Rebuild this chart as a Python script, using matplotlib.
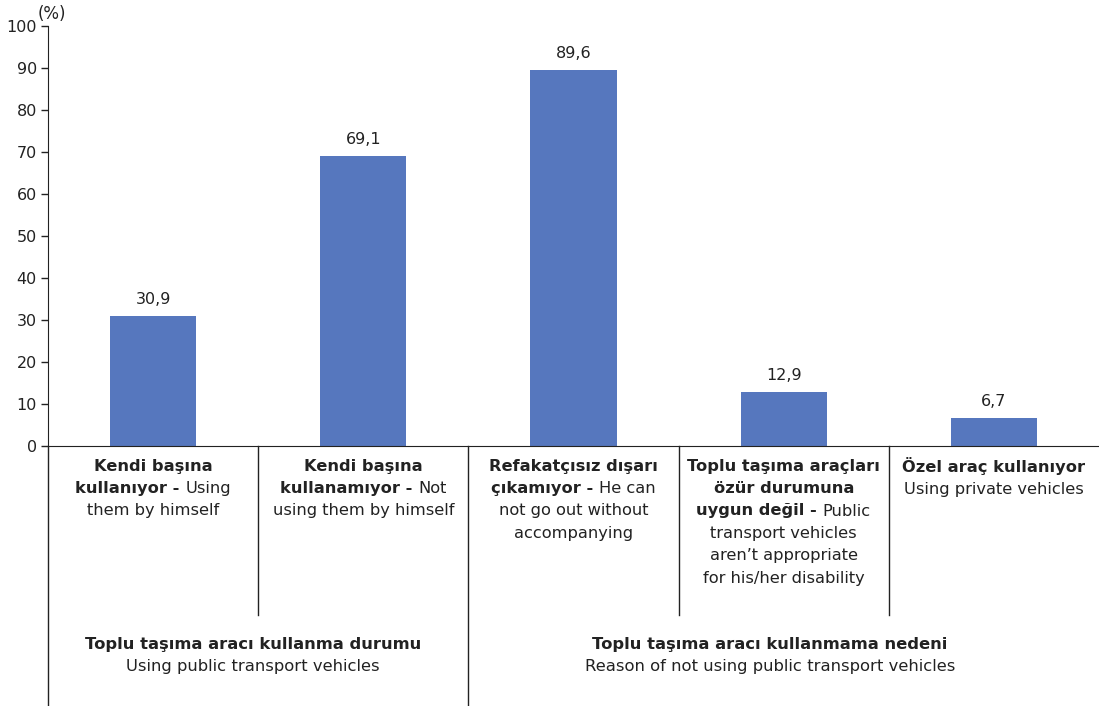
import matplotlib
matplotlib.use("Agg")
import matplotlib.pyplot as plt
from matplotlib.offsetbox import TextArea, HPacker, VPacker, AnnotationBbox
from matplotlib.lines import Line2D
import matplotlib.transforms as mtransforms

plt.rcParams['font.family'] = ['DejaVu Sans']

values = [30.9, 69.1, 89.6, 12.9, 6.7]
value_labels = ["30,9", "69,1", "89,6", "12,9", "6,7"]
# each category label: list of lines, each line a list of (text, bold) pieces
cat_labels = [
    [[("Kendi başına", True)], [("kullanıyor -", True), ("Using", False)], [("them by himself", False)]],
    [[("Kendi başına", True)], [("kullanamıyor -", True), ("Not", False)], [("using them by himself", False)]],
    [[("Refakatçısız dışarı", True)], [("çıkamıyor -", True), ("He can", False)],
     [("not go out without", False)], [("accompanying", False)]],
    [[("Toplu taşıma araçları", True)], [("özür durumuna", True)], [("uygun değil -", True), ("Public", False)],
     [("transport vehicles", False)], [("aren’t appropriate", False)], [("for his/her disability", False)]],
    [[("Özel araç kullanıyor", True)], [("Using private vehicles", False)]],
]
group_titles = ["Toplu taşıma aracı kullanma durumu", "Toplu taşıma aracı kullanmama nedeni"]
group_subtitles = ["Using public transport vehicles", "Reason of not using public transport vehicles"]
yticks = [0, 10, 20, 30, 40, 50, 60, 70, 80, 90, 100]

W, H = 1099, 706
fig = plt.figure(figsize=(W / 100, H / 100), dpi=100)
ax = fig.add_axes([48 / W, 1 - 446 / H, (1099 - 48) / W, (446 - 26) / H])

bar_color = "#5677BE"
dark = "#222222"
x = list(range(len(values)))
ax.bar(x, values, width=0.41, color=bar_color, zorder=2)
ax.set_xlim(-0.5, len(values) - 0.5)
ax.set_ylim(0, 100)
ax.set_yticks(yticks)
ax.set_yticklabels([str(t) for t in yticks], fontsize=11.5, color=dark)
ax.tick_params(axis='y', direction='out', length=5, width=1, color=dark, pad=3)
ax.set_xticks([])
for s in ["top", "right"]:
    ax.spines[s].set_visible(False)
ax.spines["left"].set_color(dark)
ax.spines["bottom"].set_color(dark)

for xi, v, lab in zip(x, values, value_labels):
    ax.annotate(lab, (xi, v), xytext=(0, 6.5), textcoords="offset points",
                ha="center", va="bottom", fontsize=11.5, color=dark)

fig.text(52 / W, 1 - 14 / H, "(%)", ha="center", va="center", fontsize=12, color=dark)

# category labels
fs = 11.7
for xi, lines in zip(x, cat_labels):
    rows = []
    for line in lines:
        pieces = [TextArea(t, textprops=dict(fontsize=fs, fontweight="bold" if b else "normal",
                                             color=dark))
                  for t, b in line]
        rows.append(HPacker(children=pieces, align="baseline", pad=0, sep=4))
    box = VPacker(children=rows, align="center", pad=0, sep=5.3)
    top_off = -9.2 if not lines[0][0][0].startswith("Ö") else -7.8
    ab = AnnotationBbox(box, (xi, 0), xybox=(0, top_off), xycoords="data", boxcoords="offset points",
                        box_alignment=(0.5, 1), frameon=False, pad=0, annotation_clip=False)
    ax.add_artist(ab)

# separator lines
trans = mtransforms.blended_transform_factory(ax.transData, fig.transFigure)
ybase = 1 - 446 / H
for xs, ybot in [(-0.5, 0.0), (0.5, 1 - 615 / H), (1.5, 0.0), (2.5, 1 - 615 / H), (3.5, 1 - 615 / H)]:
    fig.add_artist(Line2D([xs, xs], [ybot, ybase], transform=trans, color=dark, lw=1))

# group labels
gfs = 11.8
fig.text(253 / W, 1 - 645 / H, group_titles[0], ha="center", va="center", fontsize=gfs,
         fontweight="bold", color=dark)
fig.text(253 / W, 1 - 667 / H, group_subtitles[0], ha="center", va="center", fontsize=gfs,
         color=dark)
fig.text(770 / W, 1 - 645 / H, group_titles[1], ha="center", va="center", fontsize=gfs,
         fontweight="bold", color=dark)
fig.text(770 / W, 1 - 667 / H, group_subtitles[1], ha="center", va="center", fontsize=gfs,
         color=dark)

fig.savefig("out.png", dpi=100)
